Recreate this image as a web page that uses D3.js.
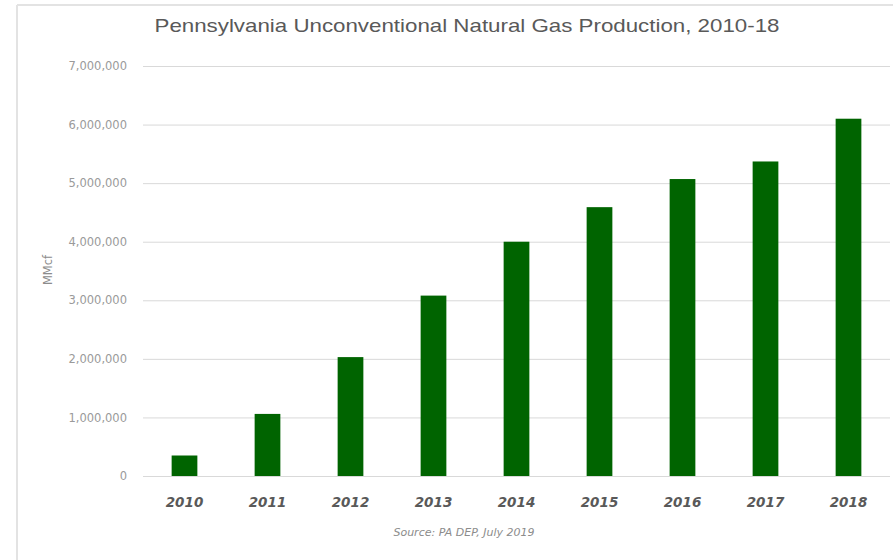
<!DOCTYPE html>
<html>
<head>
<meta charset="utf-8">
<script src="https://cdn.jsdelivr.net/npm/d3@7"></script>
<style>
  html, body { margin: 0; padding: 0; background: #fff; }
  svg { display: block; }
</style>
</head>
<body>
<script>
const years = ["2010", "2011", "2012", "2013", "2014", "2015", "2016", "2017", "2018"];
const production = [350000, 1060000, 2030000, 3080000, 4000000, 4590000, 5070000, 5370000, 6100000];
const yTicks = [0, 1000000, 2000000, 3000000, 4000000, 5000000, 6000000, 7000000];
const titleText = "Pennsylvania Unconventional Natural Gas Production, 2010-18";
const yLabel = "MMcf";
const sourceText = "Source: PA DEP, July 2019";

(function () {
const W = 893, H = 560;
const svg = d3.select("body").append("svg").attr("width", W).attr("height", H);

// frame
svg.append("line").attr("x1", 17).attr("x2", W).attr("y1", 5).attr("y2", 5)
  .attr("stroke", "#e3e3e3").attr("stroke-width", 2);
svg.append("line").attr("x1", 17).attr("x2", 17).attr("y1", 5).attr("y2", H)
  .attr("stroke", "#e3e3e3").attr("stroke-width", 2);

const mLeft = 143, mRight = 890, mTop = 66, mBottom = 476;

const x = d3.scaleBand().domain(years).range([mLeft, mRight])
  .paddingInner(0.69).paddingOuter(0.345);
const y = d3.scaleLinear().domain([0, 7000000]).range([mBottom, mTop]);

// gridlines
const yAxis = d3.axisLeft(y).tickValues(yTicks).tickSize(-(mRight - mLeft))
  .tickPadding(16).tickFormat(d3.format(","));
const gy = svg.append("g").attr("transform", `translate(${mLeft},0)`).call(yAxis);
gy.select(".domain").remove();
gy.selectAll(".tick line").attr("stroke", "#d9d9d9").attr("stroke-width", 1);
gy.selectAll(".tick text")
  .attr("fill", "#9a9a9a")
  .attr("font-family", "DejaVu Sans, sans-serif")
  .attr("font-size", 11.5);

// bars
svg.append("g").selectAll("rect").data(production).join("rect")
  .attr("x", (d, i) => x(years[i]))
  .attr("width", x.bandwidth())
  .attr("y", d => y(d))
  .attr("height", d => y(0) - y(d))
  .attr("fill", "#006400");

// x axis labels
const xAxis = d3.axisBottom(x).tickSize(0).tickPadding(21);
const gx = svg.append("g").attr("transform", `translate(0,${mBottom})`).call(xAxis);
gx.select(".domain").remove();
gx.selectAll(".tick text")
  .attr("fill", "#595959")
  .attr("font-family", "DejaVu Sans, sans-serif")
  .attr("font-weight", "bold")
  .attr("font-style", "italic")
  .attr("font-size", 13.5);

// title
svg.append("text").attr("x", 467).attr("y", 32).attr("text-anchor", "middle")
  .attr("font-family", "Liberation Sans, Arial, sans-serif")
  .attr("font-size", 18.5).attr("fill", "#595959")
  .attr("textLength", 625).attr("lengthAdjust", "spacingAndGlyphs")
  .text(titleText);

// y label
svg.append("text").attr("transform", `translate(52,270) rotate(-90)`)
  .attr("text-anchor", "middle")
  .attr("font-family", "DejaVu Sans, sans-serif")
  .attr("font-size", 11.5).attr("fill", "#8c8c8c")
  .text(yLabel);

// source
svg.append("text").attr("x", 464).attr("y", 536).attr("text-anchor", "middle")
  .attr("font-family", "DejaVu Sans, sans-serif")
  .attr("font-style", "italic")
  .attr("font-size", 11).attr("fill", "#8c8c8c")
  .text(sourceText);
})();
</script>
</body>
</html>
